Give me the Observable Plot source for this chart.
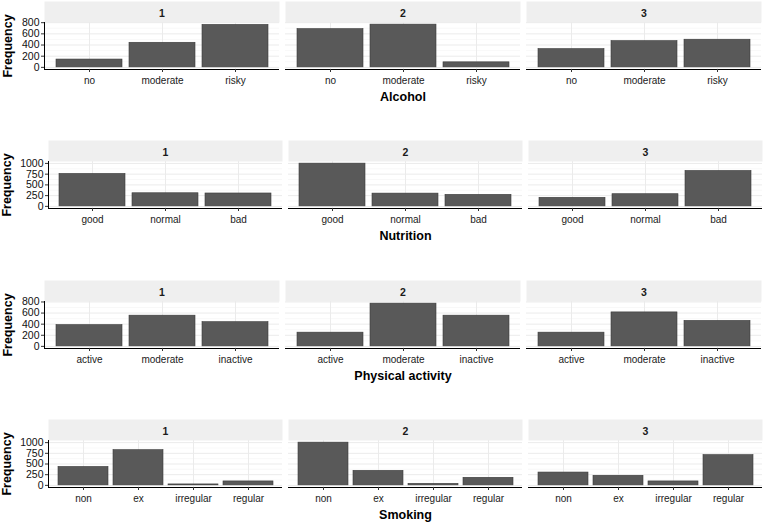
<!DOCTYPE html>
<html>
<head>
<meta charset="utf-8">
<script src="https://cdn.jsdelivr.net/npm/d3@7"></script>
<script src="https://cdn.jsdelivr.net/npm/@observablehq/plot@0.6"></script>
<style>
  html, body { margin: 0; padding: 0; background: #fff; }
  #root { position: relative; width: 765px; height: 523px; overflow: hidden; font-family: "Liberation Sans", Arial, sans-serif; }
  .row { position: absolute; left: 0; width: 765px; }
  .row svg { display: block; overflow: visible; }
  .xtitle { position: absolute; text-align: center; font: bold 12.5px "Liberation Sans", Arial, sans-serif; color: #000; line-height: 14px; }
  g[aria-label="y-axis label"] { font-size: 12.5px; font-weight: bold; fill: #000; }
</style>
</head>
<body>
<div id="root"></div>
<script>
// ---- data ----
const clusters = ["1", "2", "3"];

const alcoholCats = ["no", "moderate", "risky"];
const alcohol1 = [140, 440, 760];
const alcohol2 = [685, 765, 90];
const alcohol3 = [327, 470, 495];

const nutritionCats = ["good", "normal", "bad"];
const nutrition1 = [755, 305, 300];
const nutrition2 = [995, 297, 268];
const nutrition3 = [199, 283, 824];

const activityCats = ["active", "moderate", "inactive"];
const activity1 = [383, 553, 436];
const activity2 = [247, 770, 553];
const activity3 = [247, 612, 459];

const smokingCats = ["non", "ex", "irregular", "regular"];
const smoking1 = [431, 824, 22, 92];
const smoking2 = [1000, 339, 35, 177];
const smoking3 = [300, 224, 92, 708];

const ticks800 = [0, 200, 400, 600, 800];
const minor800 = [100, 300, 500, 700];
const ticks1000 = [0, 250, 500, 750, 1000];
const minor1000 = [125, 375, 625, 875];

const rows = [
  {title: "Alcohol", cats: alcoholCats, series: [alcohol1, alcohol2, alcohol3], ticks: ticks800, minor: minor800, marginLeft: 43},
  {title: "Nutrition", cats: nutritionCats, series: [nutrition1, nutrition2, nutrition3], ticks: ticks1000, minor: minor1000, marginLeft: 48},
  {title: "Physical activity", cats: activityCats, series: [activity1, activity2, activity3], ticks: ticks800, minor: minor800, marginLeft: 43},
  {title: "Smoking", cats: smokingCats, series: [smoking1, smoking2, smoking3], ticks: ticks1000, minor: minor1000, marginLeft: 48}
];

const root = document.getElementById("root");
const marginTop = 21, panelH = 47, marginBottom = 22, marginRight = 2;

rows.forEach((r, ri) => {
  const data = [];
  clusters.forEach((c, i) => r.cats.forEach((k, j) => data.push({cluster: c, cat: k, value: r.series[i][j]})));
  const M = d3.max(data, d => d.value);
  const yDomain = [-0.05 * M, 1.05 * M];

  const chart = Plot.plot({
    width: 765,
    height: marginTop + panelH + marginBottom,
    marginTop, marginBottom, marginLeft: r.marginLeft, marginRight,
    style: {fontFamily: "'Liberation Sans', Arial, sans-serif", fontSize: "10px", color: "#1a1a1a", background: "transparent", overflow: "visible"},
    fx: {domain: clusters, paddingInner: 0.024, paddingOuter: 0, label: null},
    x: {domain: r.cats, paddingInner: 0.1, paddingOuter: 0.15, label: null},
    y: {domain: yDomain, label: "Frequency"},
    marks: [
      Plot.frame({fill: "#efefef", stroke: null, insetTop: -marginTop, insetBottom: panelH}),
      Plot.gridY(r.minor, {stroke: "#f3f3f3", strokeOpacity: 1, strokeWidth: 0.6}),
      Plot.gridY(r.ticks, {stroke: "#ebebeb", strokeOpacity: 1, strokeWidth: 1}),
      Plot.gridX({stroke: "#ebebeb", strokeOpacity: 1, strokeWidth: 1}),
      Plot.barY(data, {fx: "cluster", x: "cat", y: "value", fill: "#595959", stroke: "#3a3a3a", strokeWidth: 0.6}),
      Plot.ruleY([yDomain[0]], {stroke: "#000", strokeWidth: 1}),
      Plot.frame({anchor: "left", facetAnchor: "left", stroke: "#000", strokeWidth: 1}),
      Plot.axisY(r.ticks, {anchor: "left", tickSize: 3, tickPadding: 2, fontSize: 10.5, fill: "#111", stroke: "#333",
        tickFormat: d => String(d),
        label: "Frequency", labelAnchor: "center", labelArrow: "none", labelOffset: r.marginLeft - 1.5}),
      Plot.axisX({tickSize: 3, tickPadding: 4, fontSize: 10, fill: "#1a1a1a", stroke: "#333", label: null}),
      Plot.axisFx({anchor: "top", tickSize: 0, tickPadding: 6, fontSize: 10.5, fontWeight: "bold", fill: "#1a1a1a", label: null})
    ]
  });

  const div = document.createElement("div");
  div.className = "row";
  div.style.top = (1 + ri * 139.3) + "px";
  div.appendChild(chart);
  const t = document.createElement("div");
  t.className = "xtitle";
  t.textContent = r.title;
  t.style.left = r.marginLeft + "px";
  t.style.width = (765 - r.marginLeft - marginRight) + "px";
  t.style.top = "89px";
  div.appendChild(t);
  root.appendChild(div);
});
</script>
</body>
</html>
